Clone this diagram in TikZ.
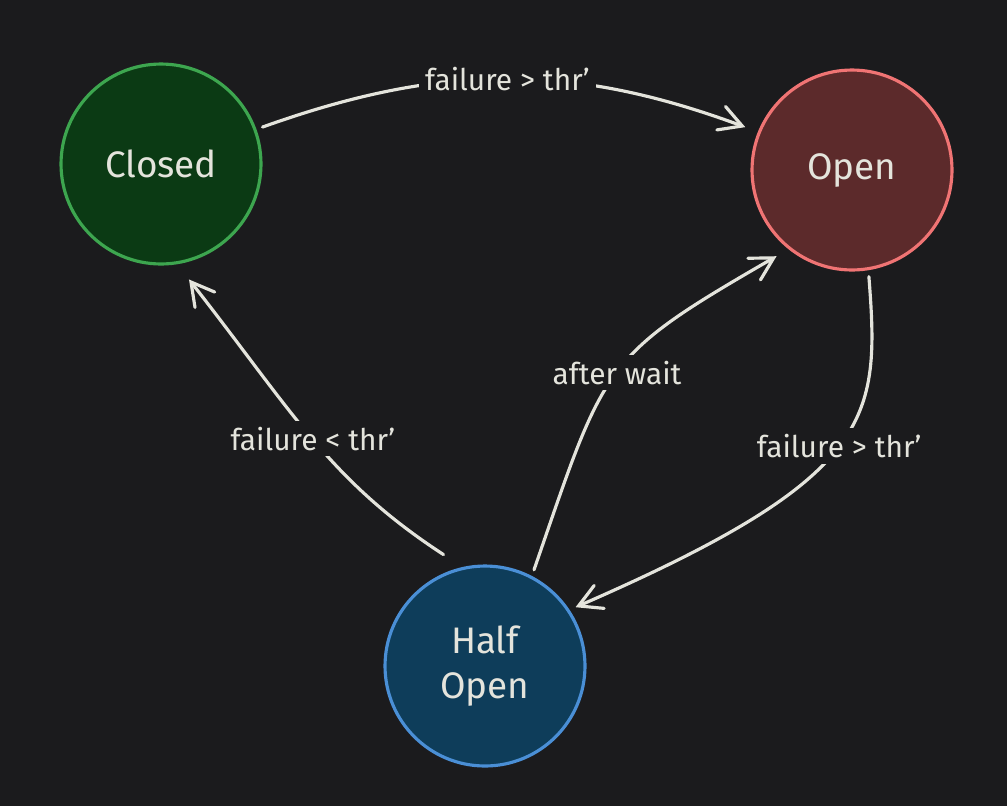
\documentclass[tikz,border=0pt]{standalone}
\usepackage{fontspec}
\setmainfont{Fira Sans}
\usetikzlibrary{arrows.meta}

\definecolor{bg}{HTML}{1B1B1D}
\definecolor{ink}{HTML}{E4E4DC}
\definecolor{closedfill}{HTML}{0B3A14}
\definecolor{closedline}{HTML}{3DA64F}
\definecolor{openfill}{HTML}{5C2A2B}
\definecolor{openline}{HTML}{F07474}
\definecolor{halffill}{HTML}{0E3D5A}
\definecolor{halfline}{HTML}{4A8FD6}

\begin{document}
\begin{tikzpicture}[x=0.02cm,y=-0.02cm]
    \tikzset{state/.style={circle,minimum size=4cm,line width=1.8pt,text=ink,
        font=\fontsize{21}{26}\selectfont,align=center,outer sep=0.16cm}};
    \tikzset{line/.style={line width=1.8pt,draw=ink,line cap=round,
        -{Straight Barb[length=0.45cm,width=0.5cm,line cap=round]}}};
    \tikzset{lbl/.style={fill=bg,text=ink,font=\fontsize{17}{20}\selectfont,inner sep=0.12cm}};

    \fill[bg] (0,0) rectangle (1007,806);

    % states
    \node[state,draw=closedline,fill=closedfill] (closed) at (161,164) {Closed};
    \node[state,draw=openline,fill=openfill] (open) at (852,170) {Open};
    \node[state,draw=halfline,fill=halffill] (half) at (485,666) {Half\\Open};

    % transitions
    \draw[line,shorten >=0.14cm] (closed.20) to[bend left=20]
        node[lbl] {failure > thr'} (open.158);
    \draw[line] (open.-81) .. controls +(11,142) and +(301,-131) ..
        node[lbl] {failure > thr'} (half.33);
    \draw[line,shorten >=0.14cm] (half.63) .. controls +(72,-208) and +(-182,105) ..
        node[lbl] {after wait} (open.230);
    \draw[line,shorten <=0.28cm,shorten >=0.24cm] (half.106) .. controls +(-126,-82) and +(111,142) ..
        node[lbl] {failure < thr'} (closed.-79);
\end{tikzpicture}
\end{document}
